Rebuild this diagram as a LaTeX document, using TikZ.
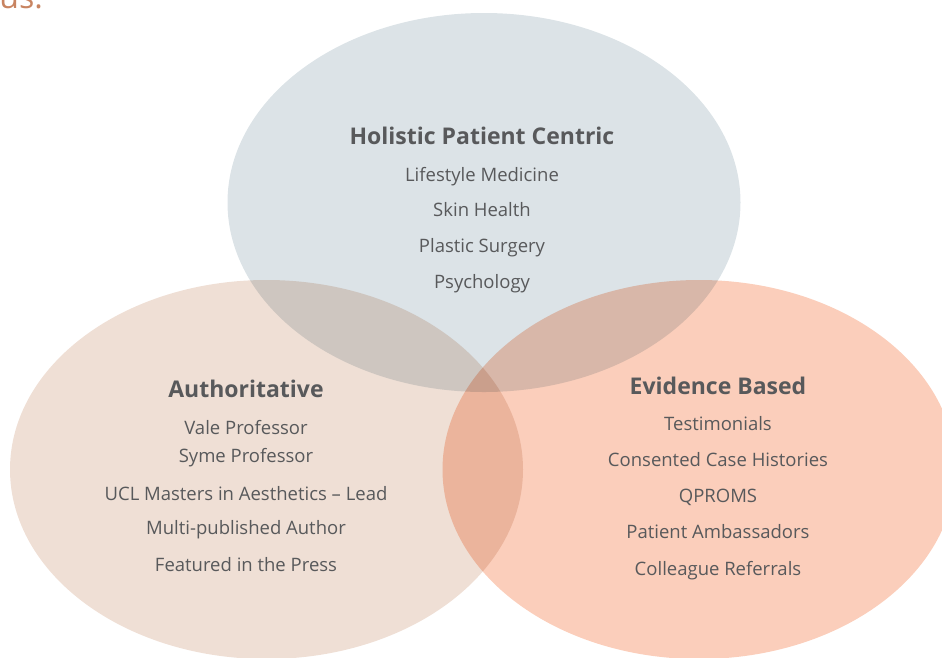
\documentclass[tikz,border=0pt]{standalone}
\usepackage{fontspec}
\setmainfont{Open Sans}
\usetikzlibrary{positioning,
                shapes.geometric}
\definecolor{holisticblue}{RGB}{220,227,231}
\definecolor{authsand}{RGB}{239,223,213}
\definecolor{evidsalmon}{RGB}{251,206,187}
\definecolor{textgray}{RGB}{88,89,91}
\definecolor{headrust}{RGB}{200,132,97}
\tikzset{
        circ/.style={ellipse, inner sep=0pt, minimum width=513pt,
                     minimum height=379pt},
        heading/.style={font=\bfseries\fontsize{23}{27}\selectfont,
                        text=textgray, inner sep=0pt,
                        text height=19pt, text depth=3pt},
        item/.style={font=\fontsize{18.5}{22}\selectfont, text=textgray,
                     inner sep=0pt, text height=15pt, text depth=3pt},
 }
\begin{document}
\begin{tikzpicture}[x=1pt, y=-1pt]
    \useasboundingbox (0,0) rectangle (942,657);
    \clip (0,0) rectangle (942,657);

    % the three sets
    \begin{scope}[blend mode=multiply]
    \node[circ, fill=holisticblue] (top) at (484,202.5) {};
    \node[circ, fill=authsand] (left) at (266.5,469.5) {};
    \node[circ, fill=evidsalmon] (right) at (699,469.5) {};
    \end{scope}

    \node[anchor=base east, inner sep=0pt, text=headrust,
          font=\fontsize{32}{36}\selectfont] (us) at (43,8.5) {us.};

    % holistic
    \node[heading] (hol) at (482,136) {Holistic Patient Centric};
    \node[item, below=19pt of hol] (hol1) {Lifestyle Medicine};
    \node[item, below=17pt of hol1] (hol2) {Skin Health};
    \node[item, below=17pt of hol2] (hol3) {Plastic Surgery};
    \node[item, below=18pt of hol3] (hol4) {Psychology};

    % authoritative
    \node[heading] (auth) at (246,389) {Authoritative};
    \node[item, below=19pt of auth] (auth1) {Vale Professor};
    \node[item, below=10pt of auth1] (auth2) {Syme Professor};
    \node[item, below=19pt of auth2] (auth3) {UCL Masters in Aesthetics -- Lead};
    \node[item, below=16pt of auth3] (auth4) {Multi-published Author};
    \node[item, below=18pt of auth4] (auth5) {Featured in the Press};

    % evidence
    \node[heading] (evid) at (718,386) {Evidence Based};
    \node[item, below=18pt of evid] (evid1) {Testimonials};
    \node[item, below=18pt of evid1] (evid2) {Consented Case Histories};
    \node[item, below=17pt of evid2] (evid3) {QPROMS};
    \node[item, below=18pt of evid3] (evid4) {Patient Ambassadors};
    \node[item, below=18pt of evid4] (evid5) {Colleague Referrals};
\end{tikzpicture}
\end{document}
